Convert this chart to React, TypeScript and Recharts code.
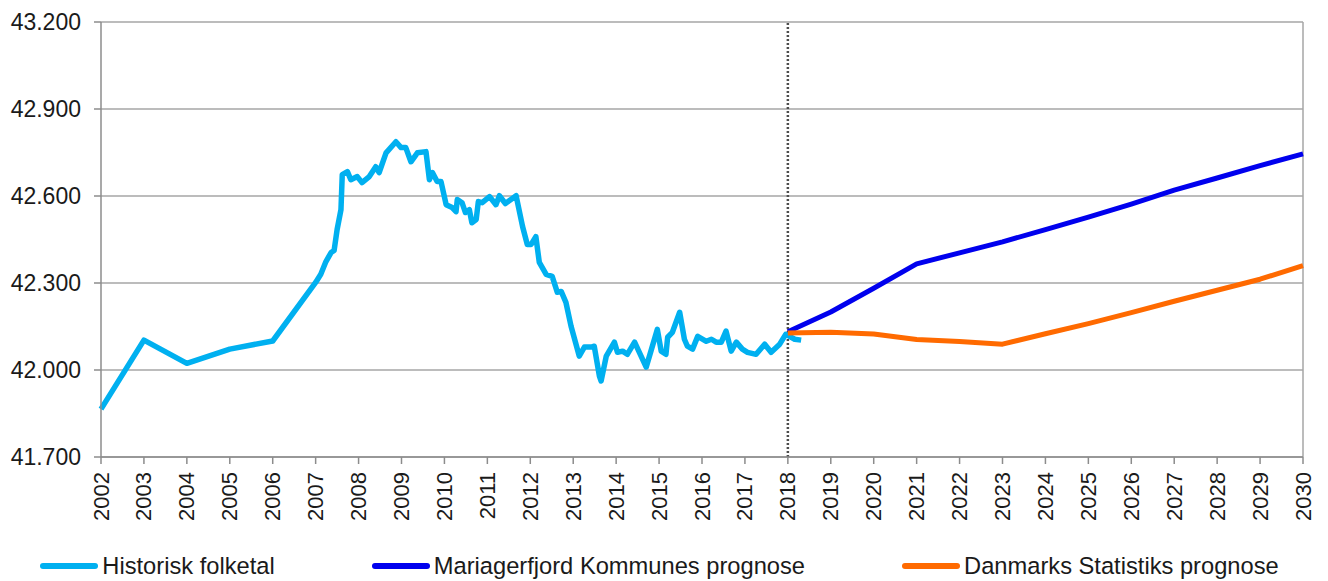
import React from 'react';
import { LineChart, Line, XAxis, YAxis, CartesianGrid, ReferenceLine, Legend } from 'recharts';

// Historical population (Mariagerfjord), years are fractional where monthly figures exist
const histYears = [
  2002, 2003, 2004, 2005, 2006, 2007.0, 2007.12, 2007.24, 2007.36, 2007.43, 2007.5, 2007.59, 2007.62, 2007.74,
  2007.82, 2007.97, 2008.08, 2008.25, 2008.4, 2008.48, 2008.64, 2008.87, 2008.99, 2009.1, 2009.22, 2009.37,
  2009.57, 2009.65, 2009.72, 2009.83, 2009.92, 2010.04, 2010.18, 2010.27, 2010.3, 2010.41, 2010.49, 2010.58,
  2010.64, 2010.74, 2010.79, 2010.88, 2011.05, 2011.2, 2011.28, 2011.42, 2011.67, 2011.82, 2011.93, 2012.02,
  2012.13, 2012.21, 2012.37, 2012.51, 2012.63, 2012.72, 2012.83, 2012.95, 2013.14, 2013.26, 2013.42, 2013.49,
  2013.61, 2013.65, 2013.77, 2013.96, 2014.03, 2014.15, 2014.26, 2014.43, 2014.7, 2014.96, 2015.05, 2015.16,
  2015.2, 2015.31, 2015.48, 2015.59, 2015.66, 2015.78, 2015.9, 2016.1, 2016.22, 2016.33, 2016.45, 2016.56,
  2016.68, 2016.8, 2016.94, 2017.06, 2017.26, 2017.46, 2017.61, 2017.81, 2017.95, 2018.04, 2018.16, 2018.31,
];
const histValues = [
  41865, 42103, 42023, 42072, 42100, 42302, 42330, 42374, 42405, 42412, 42484, 42553, 42674, 42684,
  42656, 42667, 42646, 42667, 42701, 42681, 42749, 42787, 42767, 42767, 42718, 42749,
  42753, 42656, 42681, 42650, 42650, 42570, 42560, 42546, 42588, 42577, 42543, 42553,
  42508, 42519, 42581, 42577, 42598, 42570, 42601, 42574, 42601, 42495, 42433, 42433,
  42460, 42371, 42330, 42323, 42268, 42271, 42233, 42151, 42048, 42079, 42079, 42082,
  41979, 41962, 42048, 42096, 42061, 42065, 42054, 42096, 42010, 42140, 42065, 42054,
  42113, 42130, 42199, 42106, 42082, 42072, 42116, 42099, 42106, 42096, 42096, 42134,
  42065, 42096, 42072, 42061, 42054, 42089, 42061, 42089, 42123, 42116, 42106, 42103,
];

// Forecasts
const forecastYears = [2018, 2019, 2020, 2021, 2022, 2023, 2024, 2025, 2026, 2027, 2028, 2029, 2030];
const kommuneValues = [42132, 42200, 42282, 42366, 42404, 42442, 42484, 42527, 42572, 42620, 42662, 42705, 42745];
const dstValues = [42128, 42130, 42124, 42105, 42098, 42089, 42125, 42160, 42198, 42237, 42275, 42313, 42360];

const seriesNames = ['Historisk folketal', 'Mariagerfjord Kommunes prognose', 'Danmarks Statistiks prognose'];

const yearTicks = [
  2002, 2003, 2004, 2005, 2006, 2007, 2008, 2009, 2010, 2011, 2012, 2013, 2014, 2015, 2016,
  2017, 2018, 2019, 2020, 2021, 2022, 2023, 2024, 2025, 2026, 2027, 2028, 2029, 2030,
];
const valueTicks = [41700, 42000, 42300, 42600, 42900, 43200];

const histData = histYears.map((year, i) => ({ year, value: histValues[i] }));
const kommuneData = forecastYears.map((year, i) => ({ year, value: kommuneValues[i] }));
const dstData = forecastYears.map((year, i) => ({ year, value: dstValues[i] }));

const FONT = '"Liberation Sans", Arial, sans-serif';

// 43200 -> 43.200
const formatThousands = (v: number) => String(v).replace(/\B(?=(\d{3})+(?!\d))/g, '.');

const YearTick = ({ x, y, payload }: any) => (
  <text
    transform={`translate(${x},${y + 6}) rotate(-90)`}
    textAnchor='end'
    dominantBaseline='central'
    fontSize={22}
    fontFamily={FONT}
    fill='#1a1a1a'
  >
    {payload.value}
  </text>
);

// keep the legend in series order, not alphabetical
const LegendContent = ({ payload }: any) => {
  const items = [...(payload || [])].sort(
    (a: any, b: any) => seriesNames.indexOf(a.value) - seriesNames.indexOf(b.value)
  );
  return (
    <div
      style={{
        display: 'flex',
        justifyContent: 'center',
        alignItems: 'center',
        gap: 97,
        height: 30,
        paddingLeft: 16,
        fontFamily: FONT,
        fontSize: 23.7,
        color: '#1a1a1a',
      }}
    >
      {items.map((entry: any) => (
        <div key={entry.value} style={{ display: 'flex', alignItems: 'center' }}>
          <span
            style={{ display: 'inline-block', width: 58, height: 6, borderRadius: 3, background: entry.color, marginRight: 4 }}
          />
          <span>{entry.value}</span>
        </div>
      ))}
    </div>
  );
};

export default function App() {
  return (
    <div style={{ position: 'absolute', left: 0, top: 0, background: '#fff' }}>
      <LineChart width={1328} height={581} margin={{ top: 22, right: 25, left: 0, bottom: 0 }}>
        <CartesianGrid vertical={false} stroke='#a6a6a6' strokeWidth={1.5} />
        <XAxis
          type='number'
          dataKey='year'
          domain={[2002, 2030]}
          ticks={yearTicks}
          interval={0}
          height={94}
          tick={<YearTick />}
          tickSize={7}
          stroke='#8c8c8c'
          strokeWidth={1.5}
        />
        <YAxis
          type='number'
          dataKey='value'
          domain={[41700, 43200]}
          ticks={valueTicks}
          width={101}
          tickSize={7}
          tickMargin={13}
          tickFormatter={formatThousands}
          tick={{ fontSize: 23, fontFamily: FONT, fill: '#1a1a1a' }}
          stroke='#8c8c8c'
          strokeWidth={1.5}
        />
        <ReferenceLine x={2030} stroke='#a6a6a6' strokeWidth={1.5} />
        <ReferenceLine x={2018} stroke='#4d4d4d' strokeWidth={2.5} strokeDasharray='2 2' />
        <Legend verticalAlign='bottom' content={<LegendContent />} />
        <Line
          data={histData}
          dataKey='value'
          name={seriesNames[0]}
          type='linear'
          stroke='#00B0F0'
          strokeWidth={5.5}
          strokeLinejoin='round'
          dot={false}
          isAnimationActive={false}
        />
        <Line
          data={kommuneData}
          dataKey='value'
          name={seriesNames[1]}
          type='linear'
          stroke='#0000EE'
          strokeWidth={5}
          strokeLinejoin='round'
          dot={false}
          isAnimationActive={false}
        />
        <Line
          data={dstData}
          dataKey='value'
          name={seriesNames[2]}
          type='linear'
          stroke='#FF6A00'
          strokeWidth={5}
          strokeLinejoin='round'
          dot={false}
          isAnimationActive={false}
        />
      </LineChart>
    </div>
  );
}
